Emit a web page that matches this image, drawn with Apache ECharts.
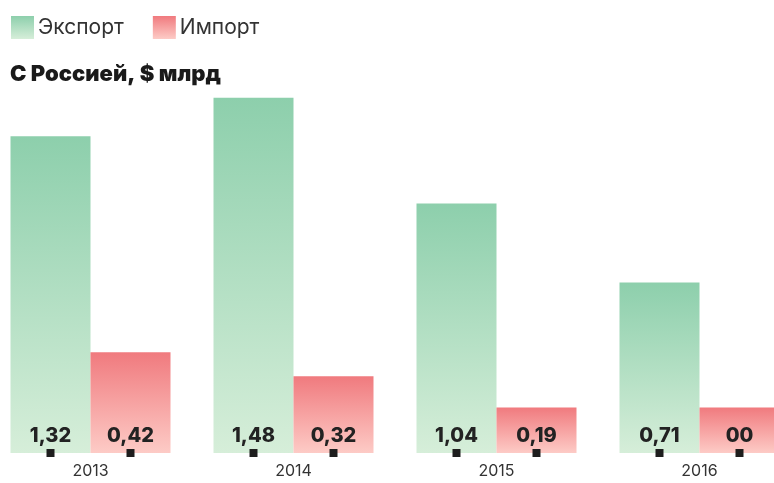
<!DOCTYPE html>
<html>
<head>
<meta charset="utf-8">
<script src="https://cdn.jsdelivr.net/npm/echarts@6/dist/echarts.min.js"></script>
<style>
  html, body { margin: 0; padding: 0; background: #fff; }
  .chart { width: 774px; height: 483px; }
</style>
</head>
<body>
<div class="chart"></div>
<script>
var years = ['2013', '2014', '2015', '2016'];
var exportData = [1.32, 1.48, 1.04, 0.71];
var importData = [0.42, 0.32, 0.19, 0.19];
var exportLabels = ['1,32', '1,48', '1,04', '0,71'];
var importLabels = ['0,42', '0,32', '0,19', '00'];

var chart = echarts.init(document.querySelector('.chart'));

var BAR_W = 80;

function grad(top, bottom) {
    return new echarts.graphic.LinearGradient(0, 0, 0, 1, [
        { offset: 0, color: top },
        { offset: 1, color: bottom }
    ]);
}

var labelStyle = {
    show: true,
    position: 'insideBottom',
    distance: 7,
    fontFamily: 'Inter',
    fontSize: 20,
    fontWeight: 800,
    color: '#222'
};

// маленькие квадраты под центром каждого столбца
function markerItem(side) {
    return function (params, api) {
        var p = api.coord([api.value(0), 0]);
        return {
            type: 'rect',
            shape: { x: p[0] + side * BAR_W / 2 - 4, y: p[1] - 4, width: 8, height: 8 },
            style: { fill: '#1e1e1e' }
        };
    };
}

var option = {
    animation: false,
    title: {
        text: 'С Россией, $ млрд',
        left: 10,
        top: 63,
        padding: 0,
        textStyle: { fontFamily: 'Inter', fontSize: 22, fontWeight: 900, color: '#1a1a1a' }
    },
    legend: {
        left: 11,
        top: 16,
        padding: 0,
        itemWidth: 23,
        itemHeight: 23,
        itemGap: 29,
        icon: 'rect',
        data: ['Экспорт', 'Импорт'],
        textStyle: { fontFamily: 'Inter', fontSize: 21, color: '#333', padding: [3, 0, 0, -1] }
    },
    grid: { left: -11, width: 812, top: 93, bottom: 30, outerBoundsMode: 'none', containLabel: false },
    xAxis: {
        type: 'category',
        data: years,
        axisLine: { show: false },
        axisTick: { show: false },
        axisLabel: { fontFamily: 'Inter', fontSize: 16, color: '#333', margin: 10 }
    },
    yAxis: {
        type: 'value',
        min: 0,
        max: 1.5,
        show: false,
        splitLine: { show: false }
    },
    series: [
        {
            name: 'Экспорт',
            type: 'bar',
            barWidth: BAR_W,
            barGap: '0%',
            data: exportData,
            itemStyle: { color: grad('#8dcfac', '#d6eed9') },
            label: Object.assign({}, labelStyle, {
                formatter: function (p) { return exportLabels[p.dataIndex]; }
            })
        },
        {
            name: 'Импорт',
            type: 'bar',
            barWidth: BAR_W,
            barGap: '0%',
            data: importData,
            itemStyle: { color: grad('#f07a7e', '#fdcbc6') },
            label: Object.assign({}, labelStyle, {
                formatter: function (p) { return importLabels[p.dataIndex]; }
            })
        },
        {
            type: 'custom',
            renderItem: markerItem(-1),
            data: years.map(function (y, i) { return [i, 0]; }),
            z: 5
        },
        {
            type: 'custom',
            renderItem: markerItem(1),
            data: years.map(function (y, i) { return [i, 0]; }),
            z: 5
        }
    ]
};

chart.setOption(option);
</script>
</body>
</html>
